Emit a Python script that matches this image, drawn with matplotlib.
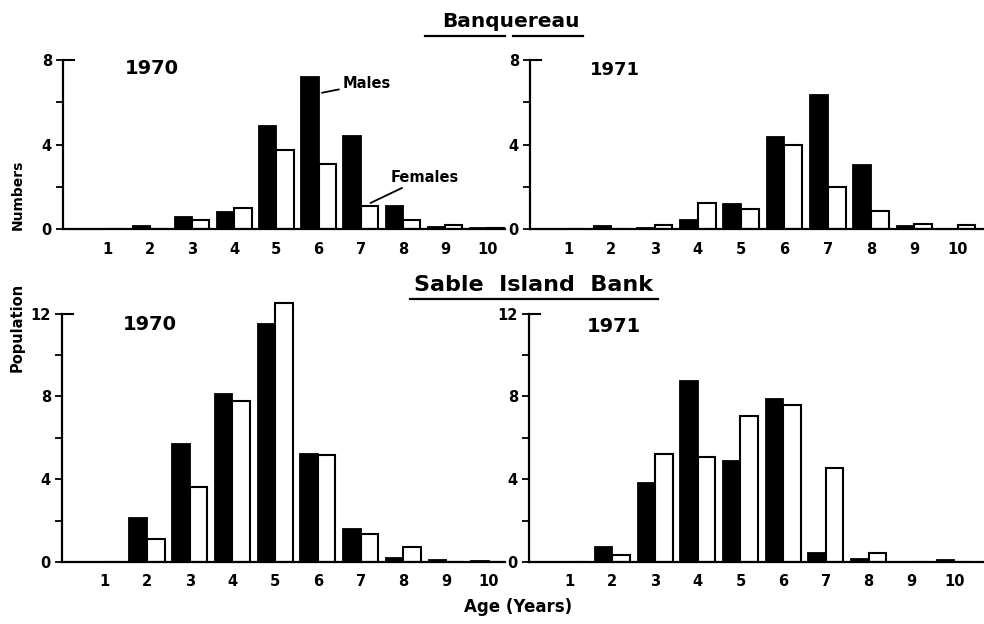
import numpy as np
import matplotlib
matplotlib.use('Agg')
import matplotlib.pyplot as plt
from matplotlib.lines import Line2D

W, H = 984, 624

# Age classes and mean numbers per tow, males and females
ages = [1, 2, 3, 4, 5, 6, 7, 8, 9, 10]
ban70_males = [0, 0.15, 0.57, 0.79, 4.87, 7.18, 4.40, 1.07, 0.10, 0.06]
ban70_females = [0, 0, 0.41, 1.01, 3.76, 3.07, 1.10, 0.44, 0.19, 0.05]
ban71_males = [0, 0.15, 0.05, 0.44, 1.19, 4.36, 6.34, 3.01, 0.15, 0]
ban71_females = [0, 0, 0.20, 1.22, 0.94, 3.98, 2.00, 0.85, 0.25, 0.19]
sab70_males = [0, 2.13, 5.70, 8.13, 11.49, 5.22, 1.57, 0.19, 0.08, 0.05]
sab70_females = [0, 1.11, 3.63, 7.77, 12.52, 5.17, 1.37, 0.73, 0, 0]
sab71_males = [0, 0.71, 3.83, 8.75, 4.89, 7.85, 0.42, 0.16, 0, 0.10]
sab71_females = [0, 0.32, 5.21, 5.08, 7.03, 7.59, 4.53, 0.42, 0, 0]

FONT = 'DejaVu Sans'
BAR_W = 0.41


def px_axes(fig, left, right, y0, y1):
    # axes box given in pixel edges (y measured from the top)
    return fig.add_axes([left / W, 1 - y0 / H, (right - left) / W, (y0 - y1) / H])


def panel(ax, males, females, xlim, ylim, top, majors, minors):
    x = np.array(ages)
    ax.bar(x - BAR_W / 2, males, BAR_W, color='black', edgecolor='black', linewidth=1.3)
    ax.bar(x + BAR_W / 2, females, BAR_W, color='white', edgecolor='black', linewidth=1.5)
    ax.set_xlim(*xlim)
    ax.set_ylim(*ylim)
    for s in ['top', 'right']:
        ax.spines[s].set_visible(False)
    ax.spines['left'].set_bounds(0, top)
    ax.spines['left'].set_linewidth(1.6)
    ax.spines['bottom'].set_linewidth(1.6)
    ax.set_xticks(ages)
    ax.set_xticklabels([str(a) for a in ages], fontsize=10.5, fontweight='bold', family=FONT)
    ax.tick_params(axis='x', length=0, pad=9)
    ax.set_yticks(majors)
    ax.set_yticklabels([str(v) for v in majors], fontsize=10.5, fontweight='bold', family=FONT)
    ax.set_yticks(minors, minor=True)
    ax.tick_params(axis='y', which='both', direction='out', length=5, width=1.3, pad=3)
    # short inward stroke capping the top of the axis
    ax.plot([0, 0.025], [top, top], color='black', lw=1.5,
            transform=ax.get_yaxis_transform(), clip_on=False)
    ax.patch.set_alpha(0)


fig = plt.figure(figsize=(W / 100, H / 100), dpi=100)

ax1 = px_axes(fig, 63, 505, 229, 60)
panel(ax1, ban70_males, ban70_females, (-0.06, 10.42), (0, 8), 8, [0, 4, 8], [2, 6])
ax2 = px_axes(fig, 530, 984, 229, 60)
panel(ax2, ban71_males, ban71_females, (0.12, 10.61), (0, 8), 8, [0, 4, 8], [2, 6])
ax3 = px_axes(fig, 62, 505, 562, 297)
panel(ax3, sab70_males, sab70_females, (0.01, 10.38), (0, 12.8), 12, [0, 4, 8, 12], [2, 6, 10])
ax4 = px_axes(fig, 529, 984, 562, 297)
panel(ax4, sab71_males, sab71_females, (0.05, 10.7), (0, 12.8), 12, [0, 4, 8, 12], [2, 6, 10])

# sex labels with leader lines
ax1.annotate('Males', xy=(6.08, 6.45), xytext=(6.58, 6.87), va='center', ha='left',
             fontsize=10.5, fontweight='bold', family=FONT,
             arrowprops=dict(arrowstyle='-', lw=1.3, color='black', shrinkA=1, shrinkB=0))
ax1.annotate('Females', xy=(7.23, 1.23), xytext=(7.71, 2.46), va='center', ha='left',
             fontsize=10.5, fontweight='bold', family=FONT,
             arrowprops=dict(arrowstyle='-', lw=1.3, color='black', shrinkA=1, shrinkB=0))


def ftext(x, y, s, **kw):
    kw.setdefault('family', FONT)
    kw.setdefault('fontweight', 'bold')
    fig.text(x / W, 1 - y / H, s, **kw)


def fline(x0, x1, y, lw=1.6):
    fig.add_artist(Line2D([x0 / W, x1 / W], [1 - y / H, 1 - y / H],
                          color='black', lw=lw, transform=fig.transFigure))


# year labels
ftext(152, 68, '1970', fontsize=14, ha='center', va='center')
ftext(615, 70, '1971', fontsize=13, ha='center', va='center')
ftext(150, 324, '1970', fontsize=14, ha='center', va='center')
ftext(614, 326, '1971', fontsize=14, ha='center', va='center')

# bank headings
ftext(511, 27, 'Banquereau', fontsize=14.5, ha='center', va='baseline')
fline(425, 505, 36)
fline(513, 583, 36)
ftext(534, 291, 'Sable  Island  Bank', fontsize=16, ha='center', va='baseline')
fline(410, 658, 299)

# axis titles
ftext(18, 195, 'Numbers', fontsize=10, rotation=90, ha='center', va='center')
ftext(17, 327, 'Population', fontsize=10.5, rotation=90, ha='center', va='center')
ftext(518, 607, 'Age (Years)', fontsize=12, ha='center', va='center')

fig.savefig('out.png', dpi=100, facecolor='white')
